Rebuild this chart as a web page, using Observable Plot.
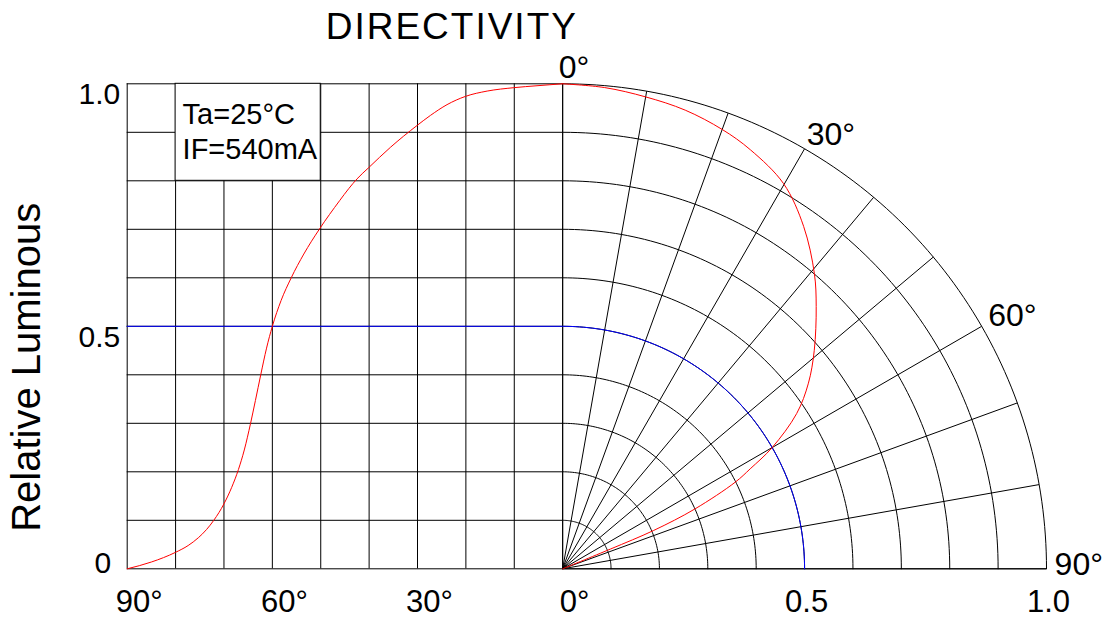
<!DOCTYPE html>
<html>
<head>
<meta charset="utf-8">
<script src="https://cdn.jsdelivr.net/npm/d3@7"></script>
<script src="https://cdn.jsdelivr.net/npm/@observablehq/plot@0.6"></script>
<style>
  html, body { margin: 0; padding: 0; background: #fff; }
  #chart svg { display: block; }
</style>
</head>
<body>
<div id="chart"></div>
<script>
// ---------- texts ----------
const title = "DIRECTIVITY";
const yLabel = "Relative Luminous";
const conditions = ["Ta=25°C", "IF=540mA"];

// ---------- left (cartesian) panel: angle (deg) vs relative luminous ----------
const leftAngles = [90, 85, 80, 77.4, 75.3, 73.6, 72.1, 70, 68.4, 67, 65.8, 64.5, 63.5, 62.4, 61.2, 60, 58.2, 56.1, 53.5, 50.3, 46.1, 44.2, 42.5, 40.1, 35.6, 30.1, 27.3, 23.9, 20.1, 15.6, 10.1, 5.3, 0];
const leftValues = [0, 0.014, 0.034, 0.048, 0.064, 0.081, 0.10, 0.134, 0.168, 0.205, 0.245, 0.30, 0.347, 0.40, 0.455, 0.50, 0.553, 0.60, 0.649, 0.70, 0.759, 0.784, 0.804, 0.827, 0.869, 0.914, 0.935, 0.957, 0.974, 0.985, 0.992, 0.996, 1.0];

// ---------- right (polar) panel: angle (deg) vs radius ----------
const polarAngles = [0, 5, 10, 15, 20, 24.2, 29.9, 35.2, 40.5, 44.1, 49.1, 53, 56.5, 60, 62, 63.4, 65.7, 67.2, 67.6, 68.5];
const polarRadii  = [1.0, 0.996, 0.988, 0.979, 0.964, 0.947, 0.916, 0.864, 0.801, 0.753, 0.688, 0.636, 0.580, 0.50, 0.439, 0.399, 0.30, 0.204, 0.107, 0];

// ---------- grid, reference and tick definitions ----------
const gridAngles = [90, 80, 70, 60, 50, 40, 30, 20, 10, 0];
const gridLevels = [0, 0.1, 0.2, 0.3, 0.4, 0.5, 0.6, 0.7, 0.8, 0.9, 1.0];
const halfLevel = 0.5;
const valueTicks = [0, 0.5, 1.0];
const angleTicks = [90, 60, 30, 0];
const radiusTicks = [0.5, 1.0];
const polarAngleLabels = [0, 30, 60, 90];

// ---------- helpers ----------
const ax = a => -a / 100;                 // left panel: 10° per 0.1 unit
const rad = d => d * Math.PI / 180;
const px = (r, t) => r * Math.sin(rad(t));
const py = (r, t) => r * Math.cos(rad(t));
const sweep = d3.range(0, 91, 1);
const arcs = r => sweep.map(t => ({r, x: px(r, t), y: py(r, t)}));

const leftCurve = leftAngles.map((a, i) => ({x: ax(a), y: leftValues[i]}));
const polarCurve = polarAngles.map((t, i) => ({x: px(polarRadii[i], t), y: py(polarRadii[i], t)}));
const gridArcs = gridLevels.filter(r => r > 0).flatMap(arcs);
const halfArc = arcs(halfLevel);
const box = [{x1: ax(80), x2: ax(50), y1: 0.8, y2: 1.0}];

const font = "'Liberation Sans', Arial, Helvetica, sans-serif";

const chart = Plot.plot({
  width: 1111,
  height: 620,
  marginLeft: 126.7,
  marginRight: 65,
  marginTop: 83.3,
  marginBottom: 51.7,
  x: {domain: [-0.9, 1.0], axis: null},
  y: {domain: [0, 1], axis: null},
  style: {fontFamily: font, background: "#fff", overflow: "visible", color: "#000"},
  marks: [
    // left grid
    Plot.ruleX(gridAngles, {x: ax, y1: 0, y2: 1, stroke: "#000", strokeWidth: 1}),
    Plot.ruleY(gridLevels, {y: d => d, x1: -0.9, x2: d => d === 0 ? 1.0 : 0, stroke: "#000", strokeWidth: 1}),
    // polar grid
    Plot.line(gridArcs, {x: "x", y: "y", z: "r", stroke: "#000", strokeWidth: 1}),
    Plot.link(gridAngles, {x1: 0, y1: 0, x2: t => px(1, t), y2: t => py(1, t), stroke: "#000", strokeWidth: 1}),
    // condition box
    Plot.rect(box, {x1: "x1", x2: "x2", y1: "y1", y2: "y2", fill: "#fff", stroke: "#000", strokeWidth: 1}),
    Plot.text([conditions[0]], {x: ax(80), y: 1.0, text: d => d, textAnchor: "start", lineAnchor: "middle", dx: 7, dy: 31, fontSize: 29, fill: "#000"}),
    Plot.text([conditions[1]], {x: ax(80), y: 1.0, text: d => d, textAnchor: "start", lineAnchor: "middle", dx: 7, dy: 66, fontSize: 29, fill: "#000"}),
    // half-intensity reference (blue)
    Plot.ruleY([halfLevel], {y: d => d, x1: -0.9, x2: 0, stroke: "#0000ff", strokeWidth: 1}),
    Plot.line(halfArc, {x: "x", y: "y", stroke: "#0000ff", strokeWidth: 1}),
    // measured curves (red)
    Plot.line(leftCurve, {x: "x", y: "y", stroke: "#ff0000", strokeWidth: 1, curve: "monotone-x"}),
    Plot.line(polarCurve, {x: "x", y: "y", stroke: "#ff0000", strokeWidth: 1, curve: "catmull-rom"}),
    // left value ticks
    Plot.text(valueTicks.filter(d => d > 0), {y: d => d, frameAnchor: "left", text: d => d.toFixed(1), textAnchor: "end", lineAnchor: "middle", dx: -7, dy: 11, fontSize: 30, fill: "#000"}),
    Plot.text(valueTicks.filter(d => d === 0), {y: d => d, frameAnchor: "left", text: d => String(d), textAnchor: "end", lineAnchor: "middle", dx: -16, dy: -5, fontSize: 30, fill: "#000"}),
    // bottom ticks
    Plot.text(angleTicks, {x: ax, frameAnchor: "bottom", text: d => d + "°", textAnchor: "middle", lineAnchor: "middle", dx: 12, dy: 33, fontSize: 31, fill: "#000"}),
    Plot.text(radiusTicks, {x: d => d, frameAnchor: "bottom", text: d => d.toFixed(1), textAnchor: "middle", lineAnchor: "middle", dx: 2, dy: 33, fontSize: 31, fill: "#000"}),
    // polar angle labels
    Plot.text(polarAngleLabels, {x: t => px(1.025, t), y: t => py(1.025, t), text: d => d + "°", textAnchor: "start", lineAnchor: "middle", dx: -4, dy: -4, fontSize: 32, fill: "#000"}),
    // y label
    Plot.text([yLabel], {frameAnchor: "left", text: d => d, rotate: -90, textAnchor: "middle", lineAnchor: "middle", dx: -100, dy: 41, fontSize: 40, fill: "#000"}),
    // title
    Plot.text([title], {frameAnchor: "top-left", text: d => d, textAnchor: "middle", lineAnchor: "middle", dx: 324.6, dy: -57, fontSize: 37, fill: "#000"})
  ]
});

d3.select(chart).selectAll("text").filter(function () { return this.textContent === title; })
  .attr("letter-spacing", "2px");

document.getElementById("chart").append(chart);
</script>
</body>
</html>
